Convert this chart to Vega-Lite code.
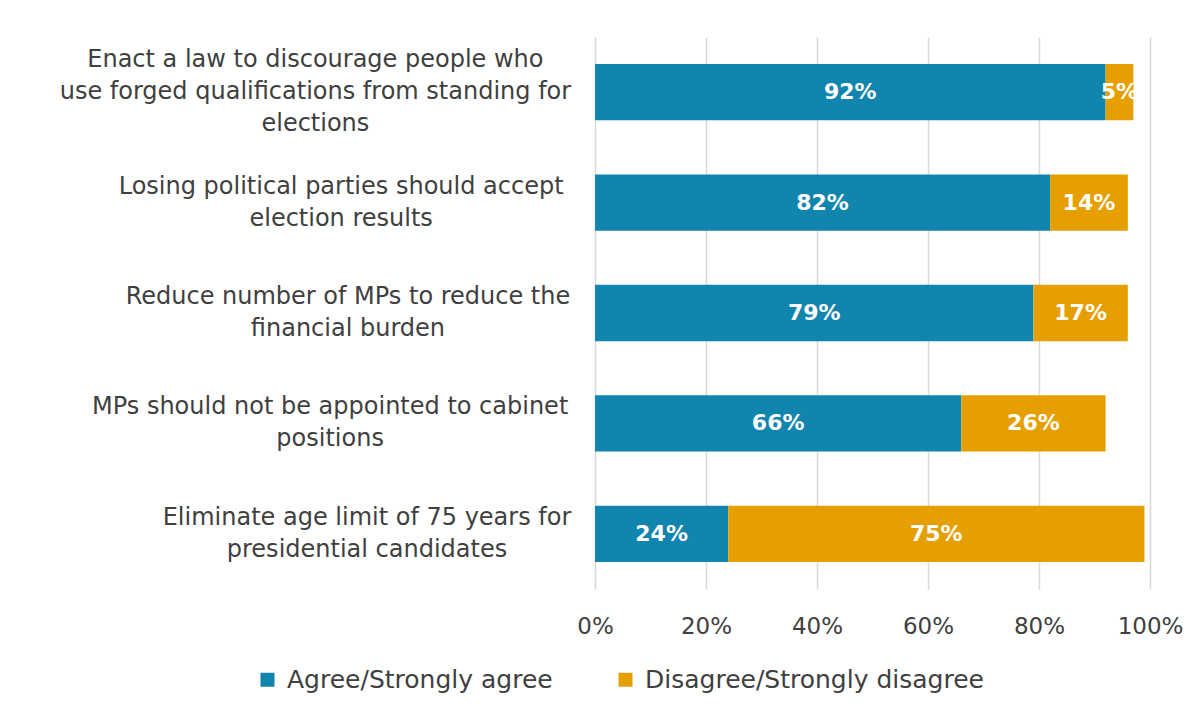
{
  "$schema": "https://vega.github.io/schema/vega-lite/v6.json",
  "width": 555,
  "height": 552,
  "autosize": "none",
  "padding": {"left": 595, "top": 37, "right": 54, "bottom": 126},
  "background": "white",
  "config": {
    "font": "DejaVu Sans",
    "view": {"stroke": null}
  },
  "data": {
    "values": [
      {"question": "Enact a law to discourage people who|use forged qualifications from standing for|elections", "response": "Agree/Strongly agree", "value": 0.92, "ord": 1},
      {"question": "Enact a law to discourage people who|use forged qualifications from standing for|elections", "response": "Disagree/Strongly disagree", "value": 0.05, "ord": 2},
      {"question": "Losing political parties should accept|election results", "response": "Agree/Strongly agree", "value": 0.82, "ord": 1},
      {"question": "Losing political parties should accept|election results", "response": "Disagree/Strongly disagree", "value": 0.14, "ord": 2},
      {"question": "Reduce number of MPs to reduce the|financial burden", "response": "Agree/Strongly agree", "value": 0.79, "ord": 1},
      {"question": "Reduce number of MPs to reduce the|financial burden", "response": "Disagree/Strongly disagree", "value": 0.17, "ord": 2},
      {"question": "MPs should not be appointed to cabinet|positions", "response": "Agree/Strongly agree", "value": 0.66, "ord": 1},
      {"question": "MPs should not be appointed to cabinet|positions", "response": "Disagree/Strongly disagree", "value": 0.26, "ord": 2},
      {"question": "Eliminate age limit of 75 years for|presidential candidates", "response": "Agree/Strongly agree", "value": 0.24, "ord": 1},
      {"question": "Eliminate age limit of 75 years for|presidential candidates", "response": "Disagree/Strongly disagree", "value": 0.75, "ord": 2}
    ]
  },
  "transform": [
    {"stack": "value", "groupby": ["question"], "sort": [{"field": "ord", "order": "ascending"}], "as": ["x0", "x1"]}
  ],
  "encoding": {
    "y": {
      "field": "question",
      "type": "nominal",
      "sort": null,
      "title": null,
      "scale": {"paddingInner": 0.49, "paddingOuter": 0.245},
      "axis": {
        "labelExpr": "split(datum.label, '|')",
        "labelFontSize": 24,
        "labelLineHeight": 32,
        "labelColor": "#404040",
        "labelPadding": {"expr": "32 + 0.5 * max((14.4*length(split(datum.value,'|')[0]||'') - 7.5*length(replace(split(datum.value,'|')[0]||'', regexp('[^ iljf]','g'), '')) - 5*length(replace(split(datum.value,'|')[0]||'', regexp('[^tr]','g'), '')) + 7*length(replace(split(datum.value,'|')[0]||'', regexp('[^mwM]','g'), ''))), (14.4*length(split(datum.value,'|')[1]||'') - 7.5*length(replace(split(datum.value,'|')[1]||'', regexp('[^ iljf]','g'), '')) - 5*length(replace(split(datum.value,'|')[1]||'', regexp('[^tr]','g'), '')) + 7*length(replace(split(datum.value,'|')[1]||'', regexp('[^mwM]','g'), ''))), (14.4*length(split(datum.value,'|')[2]||'') - 7.5*length(replace(split(datum.value,'|')[2]||'', regexp('[^ iljf]','g'), '')) - 5*length(replace(split(datum.value,'|')[2]||'', regexp('[^tr]','g'), '')) + 7*length(replace(split(datum.value,'|')[2]||'', regexp('[^mwM]','g'), ''))))"},
        "labelLimit": 0,
        "ticks": false,
        "domain": false,
        "labelAlign": "center",
        "labelOffset": {"expr": "-(length(split(datum.value, '|')) - 1) * 16"}
      }
    }
  },
  "layer": [
    {
      "mark": {"type": "bar"},
      "encoding": {
        "x": {
          "field": "x0",
          "type": "quantitative",
          "scale": {"domain": [0, 1]},
          "title": null,
          "axis": {
            "format": ".0%",
            "values": [0, 0.2, 0.4, 0.6, 0.8, 1],
            "grid": true,
            "gridColor": "#d9d9d9",
            "gridWidth": 1.5,
            "domain": false,
            "ticks": false,
            "labelFontSize": 23,
            "labelColor": "#404040",
            "labelPadding": 26,
            "labelFlush": false
          }
        },
        "x2": {"field": "x1"},
        "color": {
          "field": "response",
          "type": "nominal",
          "scale": {"domain": ["Agree/Strongly agree", "Disagree/Strongly disagree"], "range": ["#1185ad", "#e69f00"]},
          "legend": {
            "title": null,
            "orient": "none",
            "direction": "horizontal",
            "legendX": -340,
            "legendY": 630,
            "symbolType": "square",
            "symbolSize": 196,
            "symbolStrokeWidth": 0,
            "labelFontSize": 25,
            "labelColor": "#404040",
            "labelOffset": 7,
            "columnPadding": 60,
            "labelLimit": 0
          }
        }
      }
    },
    {
      "transform": [
        {"fold": ["x0", "x1"], "as": ["edge", "pos"]}
      ],
      "mark": {"type": "text", "color": "white", "fontWeight": "bold", "fontSize": 22, "baseline": "middle", "align": "center"},
      "encoding": {
        "x": {"field": "pos", "type": "quantitative", "aggregate": "mean"},
        "detail": {"field": "response", "type": "nominal"},
        "text": {"field": "value", "type": "quantitative", "format": ".0%"}
      }
    }
  ]
}
